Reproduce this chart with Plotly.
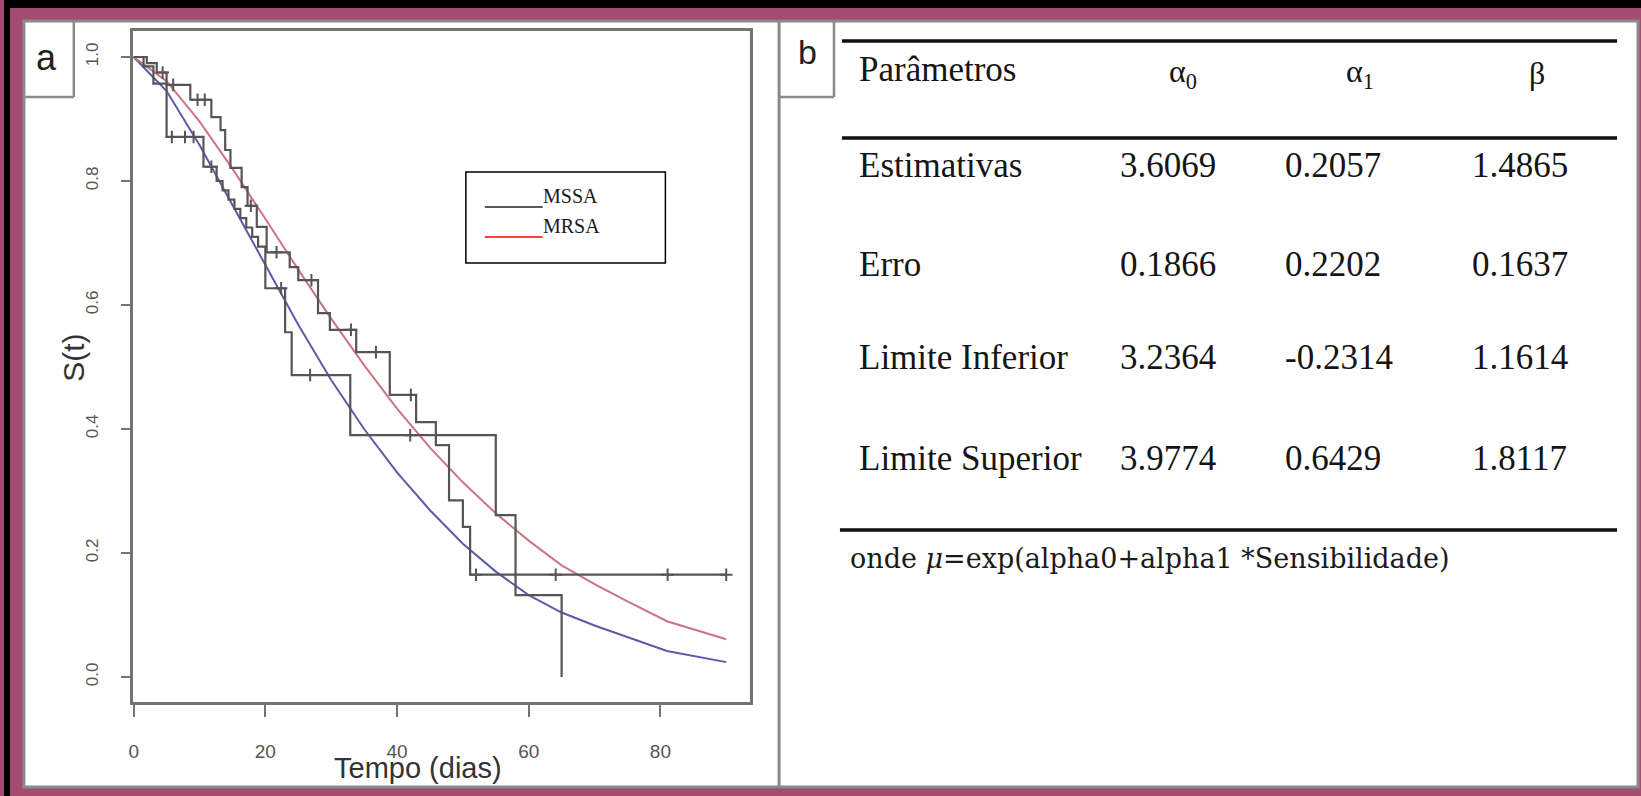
import plotly.graph_objects as go

# ---------------- data ----------------
# Kaplan-Meier step curves (time in days, survival)
km_mssa_t = [0, 1.5, 3.0, 5.0, 10.6, 12.6, 13.5, 14.4, 15.3, 16.2, 17.1, 18.0, 18.9, 20.0, 23.0, 24.0, 32.9, 55.0, 58.0, 65.0]
km_mssa_s = [1.0, 0.985, 0.957, 0.871, 0.823, 0.800, 0.785, 0.770, 0.755, 0.740, 0.725, 0.710, 0.694, 0.627, 0.556, 0.487, 0.390, 0.261, 0.132, 0.0]
cens_mssa_t = [5.8, 7.8, 9.1, 11.8, 22.4, 26.8, 42.0]
cens_mssa_s = [0.871, 0.871, 0.871, 0.823, 0.627, 0.487, 0.390]

km_mrsa_t = [0, 2.0, 3.5, 5.0, 8.6, 11.8, 13.2, 13.9, 14.7, 16.4, 17.3, 18.7, 20.2, 23.7, 25.0, 28.0, 29.8, 33.8, 38.9, 42.9, 45.9, 47.9, 50.0, 51.1, 90.0]
km_mrsa_s = [1.0, 0.990, 0.975, 0.955, 0.931, 0.903, 0.882, 0.850, 0.821, 0.790, 0.760, 0.726, 0.685, 0.661, 0.640, 0.587, 0.560, 0.524, 0.455, 0.411, 0.374, 0.285, 0.242, 0.165, 0.165]
cens_mrsa_t = [4.4, 6.0, 9.7, 10.8, 17.8, 21.7, 27.0, 33.0, 36.8, 42.1, 52.0, 64.1, 81.1, 90.0]
cens_mrsa_s = [0.975, 0.955, 0.931, 0.931, 0.760, 0.685, 0.640, 0.560, 0.524, 0.455, 0.165, 0.165, 0.165, 0.165]

# fitted parametric curves
fit_t = [0, 5, 10, 15, 20, 25, 30, 35, 40, 45, 50, 55, 60, 65, 70, 75, 81, 90]
fit_mssa = [1.0, 0.945, 0.858, 0.761, 0.663, 0.568, 0.479, 0.400, 0.330, 0.269, 0.215, 0.170, 0.132, 0.104, 0.083, 0.064, 0.042, 0.024]
fit_mrsa = [1.0, 0.961, 0.896, 0.820, 0.739, 0.657, 0.578, 0.503, 0.433, 0.370, 0.314, 0.264, 0.220, 0.180, 0.150, 0.122, 0.090, 0.061]

x_ticks = [0, 20, 40, 60, 80]
y_ticks = [0.0, 0.2, 0.4, 0.6, 0.8, 1.0]
y_tick_text = ["0.0", "0.2", "0.4", "0.6", "0.8", "1.0"]

legend_names = ["MSSA", "MRSA"]

# table
table_header = ["Parâmetros", "α<sub>0</sub>", "α<sub>1</sub>", "β"]
row_labels = ["Estimativas", "Erro", "Limite Inferior", "Limite Superior"]
alpha0 = [3.6069, 0.1866, 3.2364, 3.9774]
alpha1 = [0.2057, 0.2202, -0.2314, 0.6429]
beta = [1.4865, 0.1637, 1.1614, 1.8117]
table_note = "onde <i>μ</i>=exp(alpha0+alpha1 *Sensibilidade)"

# ---------------- layout helpers ----------------
W, H = 1641, 796
def fx(x):
    return x / W
def fy(y):
    return 1 - y / H

PURPLE = "#A34B70"
GRAY = "#8a8a8a"
AXGRAY = "#747474"
KMGRAY = "#555555"
BLUE = "#5b5ba8"
RED = "#cc7482"

fig = go.Figure()

fig.add_trace(go.Scatter(x=fit_t, y=fit_mssa, mode="lines", line=dict(color=BLUE, width=2), hoverinfo="skip"))
fig.add_trace(go.Scatter(x=fit_t, y=fit_mrsa, mode="lines", line=dict(color=RED, width=2), hoverinfo="skip"))
fig.add_trace(go.Scatter(x=km_mssa_t, y=km_mssa_s, mode="lines", line=dict(color=KMGRAY, width=2.2, shape="hv"), hoverinfo="skip"))
fig.add_trace(go.Scatter(x=km_mrsa_t, y=km_mrsa_s, mode="lines", line=dict(color=KMGRAY, width=2.2, shape="hv"), hoverinfo="skip"))
fig.add_trace(go.Scatter(x=cens_mssa_t, y=cens_mssa_s, mode="markers",
                         marker=dict(symbol="cross-thin", size=9, line=dict(width=2, color=KMGRAY)), hoverinfo="skip"))
fig.add_trace(go.Scatter(x=cens_mrsa_t, y=cens_mrsa_s, mode="markers",
                         marker=dict(symbol="cross-thin", size=9, line=dict(width=2, color=KMGRAY)), hoverinfo="skip"))

shapes = []
# black strips of the frame
shapes.append(dict(type="rect", xref="paper", yref="paper", x0=0, x1=1, y0=fy(8), y1=1, fillcolor="black", line=dict(width=0), layer="below"))
shapes.append(dict(type="rect", xref="paper", yref="paper", x0=0, x1=fx(6), y0=0, y1=1, fillcolor="black", line=dict(width=0), layer="below"))
# white panels
shapes.append(dict(type="rect", xref="paper", yref="paper", x0=fx(20), x1=fx(1638), y0=fy(787), y1=fy(21),
                   fillcolor="white", line=dict(color=GRAY, width=3), layer="below"))
shapes.append(dict(type="line", xref="paper", yref="paper", x0=fx(777), x1=fx(777), y0=fy(787), y1=fy(21),
                   line=dict(color=GRAY, width=3), layer="below"))
# label boxes a / b
for (xl, xr) in [(20, 70), (777, 832)]:
    shapes.append(dict(type="line", xref="paper", yref="paper", x0=fx(xr), x1=fx(xr), y0=fy(97), y1=fy(21),
                       line=dict(color=GRAY, width=2.5), layer="below"))
    shapes.append(dict(type="line", xref="paper", yref="paper", x0=fx(xl), x1=fx(xr), y0=fy(97), y1=fy(97),
                       line=dict(color=GRAY, width=2.5), layer="below"))
# legend box
shapes.append(dict(type="rect", xref="paper", yref="paper", x0=fx(463), x1=fx(663), y0=fy(263), y1=fy(172),
                   fillcolor="white", line=dict(color="black", width=1.5), layer="above"))
shapes.append(dict(type="line", xref="paper", yref="paper", x0=fx(482), x1=fx(540), y0=fy(207), y1=fy(207),
                   line=dict(color="#222222", width=1.5), layer="above"))
shapes.append(dict(type="line", xref="paper", yref="paper", x0=fx(482), x1=fx(540), y0=fy(237), y1=fy(237),
                   line=dict(color="#ff0000", width=1.5), layer="above"))
# table rules
for (yy, xa, xb) in [(41, 840, 1617), (138, 840, 1617), (530, 838, 1617)]:
    shapes.append(dict(type="line", xref="paper", yref="paper", x0=fx(xa), x1=fx(xb), y0=fy(yy), y1=fy(yy),
                       line=dict(color="#111111", width=3.5), layer="above"))

ann = []
LAB = dict(family="Liberation Sans, Arial, sans-serif", color="#222222")
ann.append(dict(text="a", x=fx(43), y=fy(57), xref="paper", yref="paper", showarrow=False,
                xanchor="center", yanchor="middle", font=dict(size=36, **LAB)))
ann.append(dict(text="b", x=fx(805), y=fy(52), xref="paper", yref="paper", showarrow=False,
                xanchor="center", yanchor="middle", font=dict(size=34, **LAB)))
ann.append(dict(text="Tempo (dias)", x=fx(415), y=fy(768), xref="paper", yref="paper", showarrow=False,
                xanchor="center", yanchor="middle", font=dict(size=29, family="Liberation Sans, Arial, sans-serif", color="#333333")))
ann.append(dict(text="S(t)", x=fx(69), y=fy(358), xref="paper", yref="paper", showarrow=False, textangle=-90,
                xanchor="center", yanchor="middle", font=dict(size=30, family="Liberation Sans, Arial, sans-serif", color="#333333")))
# legend text
SERIF = "Liberation Serif, Times New Roman, serif"
for name, yy in zip(legend_names, [196, 226]):
    ann.append(dict(text=name, x=fx(538), y=fy(yy), xref="paper", yref="paper", showarrow=False,
                    xanchor="left", yanchor="middle", font=dict(size=20, family=SERIF, color="#1a1a1a")))

# table text
TF = dict(family=SERIF, color="#151515")
header_y = 69
row_y = [166, 264, 357, 458]
label_x = 855
col_left = [1117, 1282, 1470]
head_x = [1182, 1359, 1537]
ann.append(dict(text=table_header[0], x=fx(label_x), y=fy(header_y), xref="paper", yref="paper", showarrow=False,
                xanchor="left", yanchor="middle", font=dict(size=35, **TF)))
for h, hx in zip(table_header[1:], head_x):
    ann.append(dict(text=h, x=fx(hx), y=fy(header_y + 4), xref="paper", yref="paper", showarrow=False,
                    xanchor="center", yanchor="middle", font=dict(size=32, **TF)))
for i, lab in enumerate(row_labels):
    ann.append(dict(text=lab, x=fx(label_x), y=fy(row_y[i]), xref="paper", yref="paper", showarrow=False,
                    xanchor="left", yanchor="middle", font=dict(size=35, **TF)))
    for col, cx in zip([alpha0, alpha1, beta], col_left):
        ann.append(dict(text=f"{col[i]:.4f}", x=fx(cx), y=fy(row_y[i]), xref="paper", yref="paper", showarrow=False,
                        xanchor="left", yanchor="middle", font=dict(size=35, **TF)))
ann.append(dict(text=table_note, x=fx(846), y=fy(558), xref="paper", yref="paper", showarrow=False,
                xanchor="left", yanchor="middle", font=dict(size=27, family="DejaVu Serif, serif", color="#1a1a1a")))

fig.update_layout(
    width=W, height=H, autosize=False,
    margin=dict(l=0, r=0, t=0, b=0),
    paper_bgcolor=PURPLE, plot_bgcolor="rgba(0,0,0,0)",
    showlegend=False,
    shapes=shapes, annotations=ann,
    xaxis=dict(domain=[fx(129), fx(748)], range=[-0.15, 93.64], tickvals=x_ticks,
               showgrid=False, zeroline=False, showline=True, mirror=True, linecolor=AXGRAY, linewidth=2.5,
               ticks="outside", ticklen=12, tickwidth=1.5, tickcolor=AXGRAY, ticklabelstandoff=18,
               tickfont=dict(family="Liberation Sans, Arial, sans-serif", size=19, color="#555555")),
    yaxis=dict(domain=[fy(702), fy(31)], range=[-0.0403, 1.0419], tickvals=y_ticks, ticktext=y_tick_text,
               tickangle=-90, showgrid=False, zeroline=False, showline=True, mirror=True, linecolor=AXGRAY, linewidth=2.5,
               ticks="outside", ticklen=9, tickwidth=1.5, tickcolor=AXGRAY, ticklabelstandoff=16,
               tickfont=dict(family="Liberation Sans, Arial, sans-serif", size=17, color="#555555")),
)

fig.write_html("out.html", config={"displayModeBar": False},
               post_script="document.body.style.margin='0';document.body.style.overflow='hidden';")
